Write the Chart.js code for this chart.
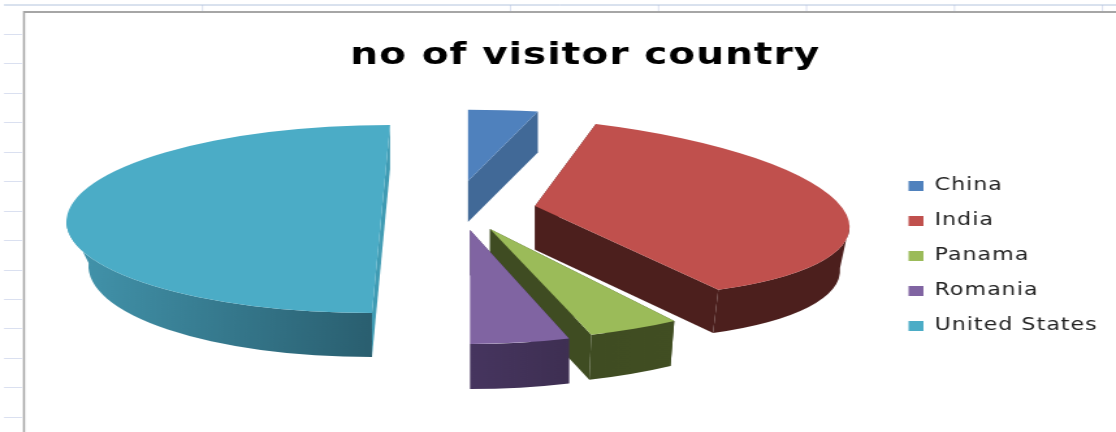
<!DOCTYPE html>
<html lang="en">
<head>
  <meta charset="UTF-8" />
  <title>no of visitor country</title>
  <script src="https://cdn.jsdelivr.net/npm/chart.js"></script>
  <style>
    html, body { margin: 0; padding: 0; background: #fff; overflow: hidden; }
    /* the source screenshot is stretched sideways, text included */
    canvas { display: block; transform-origin: 0 0; transform: scaleX(1.3007); }
  </style>
</head>
<body>
  <canvas id="pieChart" width="858" height="432"></canvas>

  <script>
    const titleText = 'no of visitor country';
    const countries = ['China', 'India', 'Panama', 'Romania', 'United States'];
    const visitors = [3.5, 37, 4.5, 5, 50];

    const topColors = ['#4f81bd', '#c0504d', '#9bbb59', '#8064a2', '#4bacc6'];
    const cutColors = ['#416997', '#4c1f1d', '#3f4c22', '#45345e', '#3f9bb3'];
    const wallColors = [
      ['#416997', '#416997'],
      ['#4c1f1d', '#4c1f1d'],
      ['#3f4c22', '#414e22'],
      ['#46355f', '#3e2f52'],
      ['#4396ae', '#2a5f70']
    ];

    // where each exploded slice's tip ends up (page px), and its 3D look
    const stretch = 1116 / 858;
    const tipX = [468, 535, 490, 470, 381];
    const tipY = [181, 206, 229, 230, 219];
    const squashX = [3.37, 3.31, 3.45, 3.37, 3.31];
    const squashY = [0.75, 0.93, 1.17, 1.2, 0.99];
    const skewX = [0, 0.09, 0, 0, -0.096];
    const skewY = [0, 0.06, 0, 0, 0];
    const depth = [41, 44, 45, 45, 44];
    const wallNarrow = [1, 0.97, 0.98, 1, 0.93]; // perspective: base is a bit narrower

    const sheetPlugin = {
      id: 'sheet',
      beforeLayout(chart) {
        chart.ctx.letterSpacing = '0.8px';
      },
      beforeDraw(chart) {
        const ctx = chart.ctx;
        ctx.letterSpacing = '0.8px';
        ctx.save();
        ctx.scale(1 / stretch, 1);
        ctx.lineWidth = 1;
        ctx.strokeStyle = '#d5dcee';
        for (let y = 34; y < 432; y += 29.45) {
          ctx.beginPath();
          ctx.moveTo(4, Math.round(y) + 0.5);
          ctx.lineTo(22, Math.round(y) + 0.5);
          ctx.stroke();
        }
        [202, 510, 658, 806, 954, 1102].forEach(x => {
          ctx.beginPath();
          ctx.moveTo(x + 0.5, 5);
          ctx.lineTo(x + 0.5, 12);
          ctx.stroke();
        });
        ctx.strokeStyle = '#a9bcd8';
        ctx.beginPath();
        ctx.moveTo(4, 5);
        ctx.lineTo(1116, 5);
        ctx.stroke();
        ctx.strokeStyle = '#a6a6a6';
        ctx.lineWidth = 2;
        ctx.beginPath();
        ctx.moveTo(24, 432);
        ctx.lineTo(24, 12);
        ctx.lineTo(1116, 12);
        ctx.stroke();
        ctx.restore();
      },
      beforeDatasetDraw(chart, args) {
        const ctx = chart.ctx;
        const arcs = args.meta.data;
        arcs.forEach((arc, i) => {
          ctx.save();
          ctx.scale(1 / stretch, 1);
          ctx.translate(tipX[i], tipY[i]);
          ctx.transform(squashX[i], skewY[i] * squashX[i], skewX[i] * squashY[i], squashY[i], 0, 0);
          ctx.translate(-arc.x, -arc.y);
          drawSide(ctx, arc, i);
          arc.draw(ctx);
          ctx.restore();
        });
        return false;
      }
    };

    function drawSide(ctx, arc, i) {
      const { x, y, startAngle, endAngle, outerRadius: r } = arc;
      const d = depth[i] / squashY[i];
      // keep the extrusion straight down on screen even for skewed slices
      const dx = -skewX[i] * squashY[i] * d / squashX[i];
      const baseR = r * wallNarrow[i];

      // cut faces first
      ctx.fillStyle = cutColors[i];
      [startAngle, endAngle].forEach(a => {
        ctx.beginPath();
        ctx.moveTo(x, y);
        ctx.lineTo(x + Math.cos(a) * r, y + Math.sin(a) * r);
        ctx.lineTo(x + dx + Math.cos(a) * baseR, y + d + Math.sin(a) * r);
        ctx.lineTo(x + dx, y + d);
        ctx.closePath();
        ctx.fill();
      });

      // curved outer wall, front half only
      const from = Math.max(startAngle, 0);
      const to = Math.min(endAngle, Math.PI);
      if (to <= from) return;
      const left = x + Math.cos(to) * r;
      const right = x + Math.cos(from) * r;
      const grad = ctx.createLinearGradient(left, 0, right, 0);
      grad.addColorStop(0, wallColors[i][0]);
      grad.addColorStop(1, wallColors[i][1]);
      ctx.fillStyle = grad;
      ctx.beginPath();
      ctx.arc(x, y, r, from, to);
      ctx.ellipse(x + dx, y + d, baseR, r, 0, to, from, true);
      ctx.closePath();
      ctx.fill();
    }

    new Chart(document.getElementById('pieChart'), {
      type: 'pie',
      data: {
        labels: countries,
        datasets: [{
          data: visitors,
          backgroundColor: topColors,
          borderWidth: 0,
          radius: 95,
          clip: false
        }]
      },
      options: {
        responsive: false,
        animation: false,
        layout: { padding: { left: 46, right: 4, top: 38, bottom: 35 } },
        plugins: {
          tooltip: { enabled: false },
          title: {
            display: true,
            text: titleText,
            color: '#000',
            padding: { top: 0, bottom: 41 },
            font: { family: 'DejaVu Sans', size: 30, weight: 'bold' }
          },
          legend: {
            position: 'right',
            fullSize: false,
            labels: {
              boxWidth: 11.5,
              boxHeight: 10,
              padding: 18,
              color: '#222',
              font: { family: 'DejaVu Sans', size: 17 }
            }
          }
        }
      },
      plugins: [sheetPlugin]
    });
  </script>
</body>
</html>
